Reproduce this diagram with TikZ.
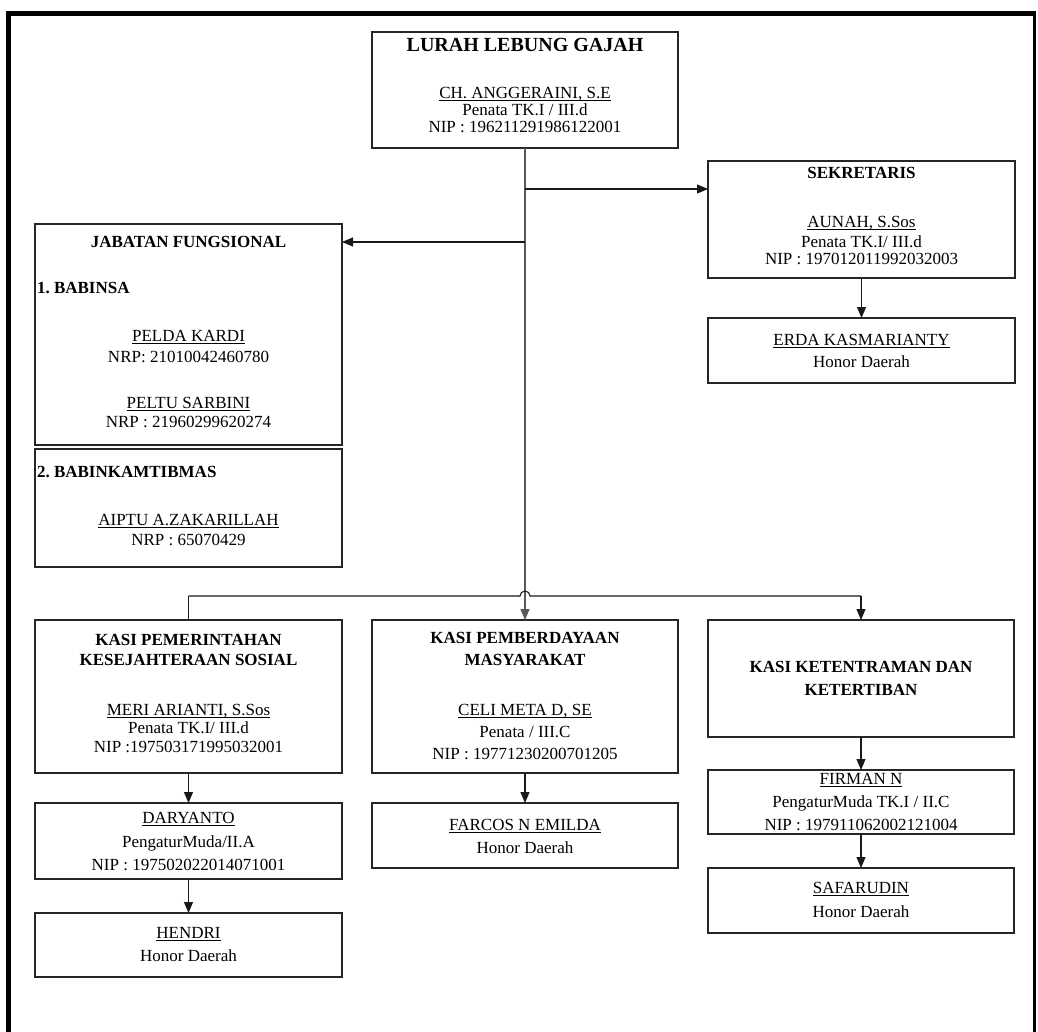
\documentclass[tikz,border=0pt]{standalone}
\usepackage{fontspec}
\setmainfont{Liberation Serif}
\usetikzlibrary{arrows.meta}
\frenchspacing
% underline at a fixed depth below the baseline
\newcommand\nameline[1]{\setbox0\hbox{#1}\rlap{\rule[-1.7pt]{\wd0}{0.8pt}}\box0}
\begin{document}
\begin{tikzpicture}[x=1pt,y=-1pt,
  box/.style={draw=black!85, line width=1.2pt, inner sep=0pt, outer sep=0pt},
  txt/.style={inner sep=0pt, outer sep=0pt, font=\fontsize{17}{17}\selectfont, text height=11.3pt, text depth=0pt},
  hd/.style={txt, font=\fontsize{17}{17}\selectfont\bfseries},
  ttl/.style={inner sep=0pt, outer sep=0pt, font=\fontsize{20}{20}\selectfont\bfseries, text height=13.3pt, text depth=0pt},
  link/.style={draw=black!90, line width=1.1pt},
  arr/.style={link, -{Triangle[length=11pt,width=9pt]}},
]
% page area and outer frame (top, left and right rules)
\useasboundingbox (0,0) rectangle (1038,1032);
\fill[black] (6,11) rectangle (1036,16);
\fill[black] (6,11) rectangle (11,1032);
\fill[black] (1033,11) rectangle (1036,1032);

% boxes
\node[box, minimum width=306pt, minimum height=116pt] (lurah) at (525,90) {};
\node[box, minimum width=307pt, minimum height=117pt] (sek) at (861.5,219.5) {};
\node[box, minimum width=307pt, minimum height=65pt] (erda) at (861.5,350.5) {};
\node[box, minimum width=307pt, minimum height=221pt] (jab) at (188.5,334.5) {};
\node[box, minimum width=307pt, minimum height=118pt] (bkt) at (188.5,508) {};
\node[box, minimum width=307pt, minimum height=153pt] (kpem) at (188.5,696.5) {};
\node[box, minimum width=306pt, minimum height=153pt] (kpmd) at (525,696.5) {};
\node[box, minimum width=306pt, minimum height=117pt] (ktrt) at (861,678.5) {};
\node[box, minimum width=307pt, minimum height=76pt] (dar) at (188.5,841) {};
\node[box, minimum width=307pt, minimum height=64pt] (hen) at (188.5,945) {};
\node[box, minimum width=306pt, minimum height=65pt] (far) at (525,835.5) {};
\node[box, minimum width=306pt, minimum height=64pt] (fir) at (861,802) {};
\node[box, minimum width=306pt, minimum height=65pt] (saf) at (861,900.5) {};

% texts: lurah
\node[ttl] (lurah-t) at (525,45) {LURAH LEBUNG GAJAH};
\node[txt] (lurah-n) at (525,93) {\nameline{CH. ANGGERAINI, S.E}};
\node[txt] (lurah-g) at (525,110) {Penata TK.I / III.d};
\node[txt] (lurah-i) at (525,127) {NIP : 196211291986122001};

% sekretaris
\node[hd] (sek-t) at (861.5,173) {SEKRETARIS};
\node[txt] (sek-n) at (861.5,222) {\nameline{AUNAH, S.Sos}};
\node[txt] (sek-g) at (861.5,242) {Penata TK.I/ III.d};
\node[txt] (sek-i) at (861.5,259) {NIP : 197012011992032003};
\node[txt] (erda-n) at (861.5,340) {\nameline{ERDA KASMARIANTY}};
\node[txt] (erda-g) at (861.5,362) {Honor Daerah};

% jabatan fungsional
\node[hd] (jab-t) at (188.5,242) {JABATAN FUNGSIONAL};
\node[hd, anchor=west] (jab-1) at (37,288) {1. BABINSA};
\node[txt] (jab-n1) at (188.5,336) {\nameline{PELDA KARDI}};
\node[txt] (jab-r1) at (188.5,357) {NRP: 21010042460780};
\node[txt] (jab-n2) at (188.5,403) {\nameline{PELTU SARBINI}};
\node[txt] (jab-r2) at (188.5,422) {NRP : 21960299620274};
\node[hd, anchor=west] (bkt-t) at (37,472) {2. BABINKAMTIBMAS};
\node[txt] (bkt-n) at (188.5,520) {\nameline{AIPTU A.ZAKARILLAH}};
\node[txt] (bkt-r) at (188.5,540) {NRP : 65070429};

% kasi pemerintahan
\node[hd] (kpem-t1) at (188.5,640) {KASI PEMERINTAHAN};
\node[hd] (kpem-t2) at (188.5,660) {KESEJAHTERAAN SOSIAL};
\node[txt] (kpem-n) at (188.5,710) {\nameline{MERI ARIANTI, S.Sos}};
\node[txt] (kpem-g) at (188.5,728) {Penata TK.I/ III.d};
\node[txt] (kpem-i) at (188.5,747) {NIP :197503171995032001};
\node[txt] (dar-n) at (188.5,818) {\nameline{DARYANTO}};
\node[txt] (dar-g) at (188.5,842) {PengaturMuda/II.A};
\node[txt] (dar-i) at (188.5,865) {NIP : 197502022014071001};
\node[txt] (hen-n) at (188.5,933) {\nameline{HENDRI}};
\node[txt] (hen-g) at (188.5,956) {Honor Daerah};

% kasi pemberdayaan
\node[hd] (kpmd-t1) at (525,638) {KASI PEMBERDAYAAN};
\node[hd] (kpmd-t2) at (525,660) {MASYARAKAT};
\node[txt] (kpmd-n) at (525,710) {\nameline{CELI META D, SE}};
\node[txt] (kpmd-g) at (525,732) {Penata / III.C};
\node[txt] (kpmd-i) at (525,754) {NIP : 19771230200701205};
\node[txt] (far-n) at (525,825) {\nameline{FARCOS N EMILDA}};
\node[txt] (far-g) at (525,848) {Honor Daerah};

% kasi ketentraman
\node[hd] (ktrt-t1) at (861,667) {KASI KETENTRAMAN DAN};
\node[hd] (ktrt-t2) at (861,690) {KETERTIBAN};
\node[txt] (fir-n) at (861,779) {\nameline{FIRMAN N}};
\node[txt] (fir-g) at (861,802) {PengaturMuda TK.I / II.C};
\node[txt] (fir-i) at (861,825) {NIP : 197911062002121004};
\node[txt] (saf-n) at (861,888) {\nameline{SAFARUDIN}};
\node[txt] (saf-g) at (861,912) {Honor Daerah};

% connectors
\coordinate (jSek) at (525,189);
\coordinate (jJab) at (525,242);
\coordinate (busL) at (188.5,596);
\coordinate (busR) at (861,596);
\coordinate (hopL) at (520,596);

\draw[arr, draw=black!65] (lurah.south) -- (kpmd.north);
\draw[arr] (jSek) -- (jSek -| sek.west);
\draw[arr] (jJab) -- (jJab -| jab.east);
\draw[link] (busL) -- (hopL) arc[start angle=180, end angle=360, radius=5] -- (busR);
\draw[link] (busL) -- (kpem.north);
\draw[arr] (busR) -- (ktrt.north);
\draw[arr] (sek.south) -- (erda.north);
\draw[arr] (kpem.south) -- (dar.north);
\draw[arr] (dar.south) -- (hen.north);
\draw[arr] (kpmd.south) -- (far.north);
\draw[arr] (ktrt.south) -- (fir.north);
\draw[arr] (fir.south) -- (saf.north);
\end{tikzpicture}
\end{document}
